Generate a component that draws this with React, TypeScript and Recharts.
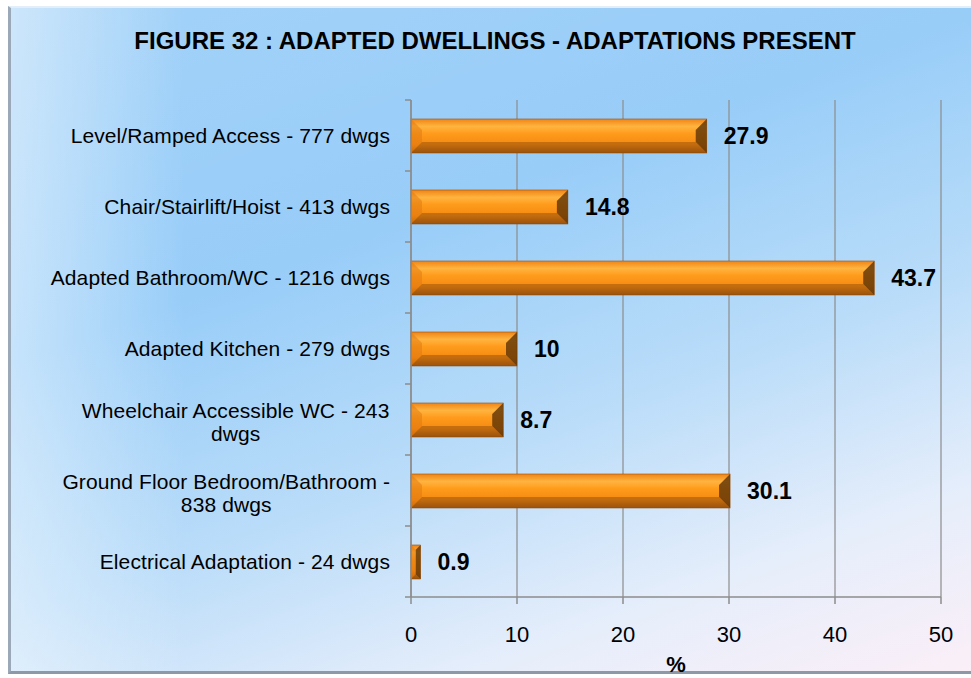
import React from 'react';
import { BarChart, Bar, XAxis, YAxis, CartesianGrid, LabelList } from 'recharts';

const categories = [
  'Level/Ramped Access - 777 dwgs',
  'Chair/Stairlift/Hoist - 413 dwgs',
  'Adapted Bathroom/WC - 1216 dwgs',
  'Adapted Kitchen - 279 dwgs',
  'Wheelchair Accessible WC - 243|dwgs',
  'Ground Floor Bedroom/Bathroom -|838 dwgs',
  'Electrical Adaptation - 24 dwgs',
];
const percents = [27.9, 14.8, 43.7, 10, 8.7, 30.1, 0.9];
const xTicks = [0, 10, 20, 30, 40, 50];

const data = categories.map((name, i) => ({ name, value: percents[i] }));

const W = 971;
const H = 678;
const MARGIN = { top: 100, right: 30, bottom: 16, left: 0 };
const Y_AXIS_W = 411;
const X_AXIS_H = 65;
const PLOT_H = H - MARGIN.top - MARGIN.bottom - X_AXIS_H;
const FONT = '"Liberation Sans", Arial, sans-serif';
const LABEL_SIZE = 21;
const LABEL_SPACING = 0.1;
const AXIS_GREY = '#8c8c8c';

let ctx: CanvasRenderingContext2D | null = null;
function textWidth(s: string) {
  if (!ctx) ctx = document.createElement('canvas').getContext('2d');
  if (!ctx) return s.length * 10;
  ctx.font = `${LABEL_SIZE}px ${FONT}`;
  return ctx.measureText(s).width + s.length * LABEL_SPACING;
}

function CategoryTick(props: any) {
  const { y, payload, index, visibleTicksCount } = props;
  const axisX = MARGIN.left + Y_AXIS_W;
  const band = PLOT_H / (visibleTicksCount || categories.length);
  const lines: string[] = String(payload.value).split('|');
  const right = axisX - 21;
  const w = Math.max(...lines.map(textWidth));
  const cx = right - w / 2;
  const isLast = index === (visibleTicksCount || categories.length) - 1;
  return (
    <g>
      <line x1={axisX - 6} x2={axisX} y1={y - band / 2} y2={y - band / 2} stroke={AXIS_GREY} strokeWidth={1.5} />
      {isLast && <line x1={axisX - 6} x2={axisX} y1={y + band / 2} y2={y + band / 2} stroke={AXIS_GREY} strokeWidth={1.5} />}
      {lines.length === 1 ? (
        <text x={right} y={y} dy={7} textAnchor="end" fontSize={LABEL_SIZE} letterSpacing={LABEL_SPACING} fill="#000" fontFamily={FONT}>{lines[0]}</text>
      ) : (
        <text x={cx} y={y} textAnchor="middle" fontSize={LABEL_SIZE} letterSpacing={LABEL_SPACING} fill="#000" fontFamily={FONT}>
          {lines.map((l, i) => (
            <tspan key={i} x={cx} dy={i === 0 ? -2 : 23}>{l}</tspan>
          ))}
        </text>
      )}
    </g>
  );
}

function BevelBar(props: any) {
  const { x, y, width, height } = props;
  if (!width || width <= 0) return null;
  const b = Math.min(11, width / 2);
  return (
    <g>
      <rect x={x} y={y} width={width} height={height} fill="url(#barGrad)" stroke="#9a520e" strokeWidth={0.6} />
      <polygon points={`${x},${y} ${x + b},${y + b} ${x + b},${y + height - b} ${x},${y + height}`} fill="#e07810" opacity={0.5} />
      <polygon points={`${x + width},${y} ${x + width - b},${y + b} ${x + width - b},${y + height - b} ${x + width},${y + height}`} fill="#5e3306" opacity={0.8} />
      <polygon points={`${x},${y + height} ${x + b},${y + height - b} ${x + width - b},${y + height - b} ${x + width},${y + height}`} fill="#7a420a" opacity={0.4} />
    </g>
  );
}

export default function App() {
  return (
    <div style={{ position: 'absolute', left: 0, top: 0, width: W, height: H, background: '#fff', overflow: 'hidden' }}>
      <div style={{
        position: 'absolute', left: 8, top: 6, width: 970, height: 668,
        background: 'linear-gradient(90deg, rgba(255,255,255,0.45) 0%, rgba(255,255,255,0) 18%), linear-gradient(160deg, #a3d2f8 0%, #98cdf8 35%, #b9dcf9 60%, #e6eefb 82%, #fbeff7 100%)',
        borderLeft: '3px solid #9aa8b8', borderTop: '2px solid #e4eef8', borderBottom: '3px solid #8d99a6',
        boxSizing: 'border-box',
      }} />
      <div style={{
        position: 'absolute', left: 0, top: 27, width: 990, textAlign: 'center',
        fontFamily: FONT, fontWeight: 'bold', fontSize: 24, color: '#000',
      }}>FIGURE 32 : ADAPTED DWELLINGS - ADAPTATIONS PRESENT</div>
      <div style={{ position: 'absolute', left: 0, top: 0 }}>
        <BarChart width={W} height={H} data={data} layout="vertical" margin={MARGIN}>
          <defs>
            <linearGradient id="barGrad" x1="0" y1="0" x2="0" y2="1">
              <stop offset="0%" stopColor="#ef8416" />
              <stop offset="22%" stopColor="#ffb440" />
              <stop offset="42%" stopColor="#ff9c1c" />
              <stop offset="75%" stopColor="#f48912" />
              <stop offset="100%" stopColor="#b0600e" />
            </linearGradient>
          </defs>
          <CartesianGrid horizontal={false} stroke={AXIS_GREY} strokeWidth={1.2} />
          <XAxis type="number" domain={[0, 50]} ticks={xTicks} interval={0}
            axisLine={{ stroke: AXIS_GREY, strokeWidth: 1.5 }} tickLine={{ stroke: AXIS_GREY, strokeWidth: 1.5 }}
            tickSize={7} tickMargin={22} height={X_AXIS_H}
            tick={{ fill: '#000', fontSize: 22, fontFamily: FONT }}
            label={{ value: '%', position: 'insideBottom', offset: -10, fill: '#000', fontSize: 22, fontWeight: 'bold', fontFamily: FONT }} />
          <YAxis type="category" dataKey="name" width={Y_AXIS_W} interval={0}
            axisLine={{ stroke: AXIS_GREY, strokeWidth: 1.5 }} tickLine={false} tick={<CategoryTick />} />
          <Bar dataKey="value" barSize={34} isAnimationActive={false} shape={<BevelBar />}>
            <LabelList dataKey="value" position="right" offset={17} fill="#000" fontSize={23} fontWeight="bold" fontFamily={FONT} />
          </Bar>
        </BarChart>
      </div>
    </div>
  );
}
